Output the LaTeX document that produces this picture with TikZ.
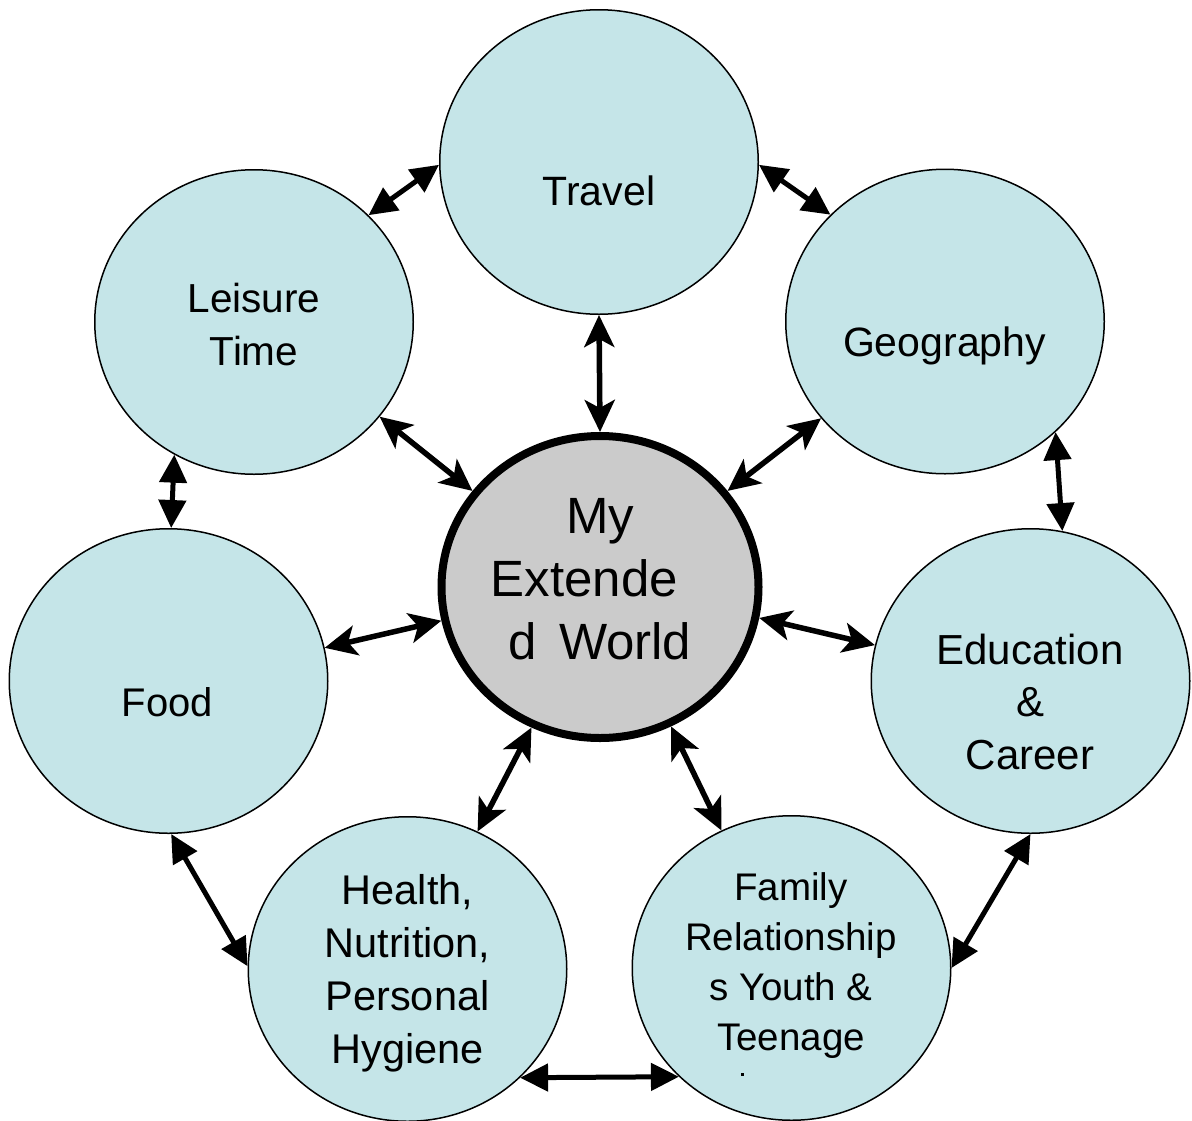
\documentclass[tikz,border=0pt]{standalone}
\usepackage{fontspec}
\setmainfont{Liberation Sans}
\usetikzlibrary{shapes.geometric,arrows.meta}
\definecolor{ringfill}{RGB}{197,229,232}
\definecolor{hubfill}{RGB}{203,203,203}
\newcommand\stk[1]{\vtop{\halign{\hfil##\hfil\cr#1\crcr}}}
\tikzset{
  ring/.style={ellipse, draw=black, line width=1.5pt, fill=ringfill,
    minimum width=318.5pt, minimum height=304.5pt, inner sep=0pt},
  hub/.style={ellipse, draw=black, line width=8pt, fill=hubfill,
    minimum width=317pt, minimum height=302pt, inner sep=0pt},
  lbl/.style={anchor=base, inner sep=0pt},
  hubarrow/.style={line width=5.5pt,
    {Stealth[length=32pt,width=30pt,inset=8pt]}-{Stealth[length=32pt,width=30pt,inset=8pt]}},
  ringarrow/.style={line width=5pt,
    {Triangle[length=28pt,width=27pt]}-{Triangle[length=28pt,width=27pt]}},
}
\begin{document}
\begin{tikzpicture}[x=1pt,y=-1pt]
\useasboundingbox (0,0) rectangle (1192,1120);
% circles
\node[ring] (Travel) at (599,162) {};
\node[ring] (Leisure) at (254,322) {};
\node[ring] (Geography) at (945,321.5) {};
\node[ring] (Food) at (168.5,681) {};
\node[ring] (Education) at (1030.5,681) {};
\node[ring] (Health) at (407.5,969) {};
\node[ring] (Family) at (791.5,968) {};
\node[hub] (Hub) at (600,587) {};
% labels
\node[lbl, font=\fontsize{41pt}{53pt}\selectfont] (tTravel) at (599,205) {\stk{Travel}};
\node[lbl, font=\fontsize{40.5pt}{53pt}\selectfont] (tLeisure) at (254,312) {\stk{Leisure\cr Time}};
\node[lbl, font=\fontsize{41pt}{53pt}\selectfont] (tGeography) at (944.5,356) {\stk{Geography}};
\node[lbl, font=\fontsize{40pt}{53pt}\selectfont] (tFood) at (167.5,716) {\stk{Food}};
\node[lbl, font=\fontsize{42pt}{52.5pt}\selectfont] (tEducation) at (1030,664) {\stk{Education\cr \&\cr Career}};
\node[lbl, font=\fontsize{41.5pt}{53pt}\selectfont] (tHealth) at (407.5,904) {\stk{Health,\cr Nutrition,\cr Personal\cr Hygiene}};
\node[lbl, font=\fontsize{38.5pt}{50pt}\selectfont] (tFamily) at (791,900) {\stk{Family\cr Relationship\cr s Youth \&\cr Teenage}};
\node[lbl, font=\fontsize{51pt}{63pt}\selectfont] (tHub) at (600,533) {\stk{My\cr Extende\hspace*{31pt}\cr d\hspace{22pt}World}};
\fill (740.5,1072.5) rectangle +(3,3);
% connectors
\draw[ringarrow] (Travel.181) -- (Leisure.43);
\draw[ringarrow] (Travel.-1) -- (Geography.137);
\draw[hubarrow] (Travel.-90) -- (Hub.90);
\draw[hubarrow] (Leisure.-37) -- (Hub.143);
\draw[hubarrow] (Geography.-142) -- (Hub.37);
\draw[ringarrow] (Leisure.-121) -- (Food.89);
\draw[ringarrow] (Geography.-45) -- (Education.78);
\draw[hubarrow] (Food.12) -- (Hub.-168);
\draw[hubarrow] (Hub.-11.5) -- (Education.167.5);
\draw[ringarrow] (Food.-89) -- (Health.179);
\draw[ringarrow] (Education.-90) -- (Family.0);
\draw[hubarrow] (Health.63) -- (Hub.-116);
\draw[hubarrow] (Family.117) -- (Hub.-63);
\draw[ringarrow] (Health.-44) -- (Family.-136);
\end{tikzpicture}
\end{document}
